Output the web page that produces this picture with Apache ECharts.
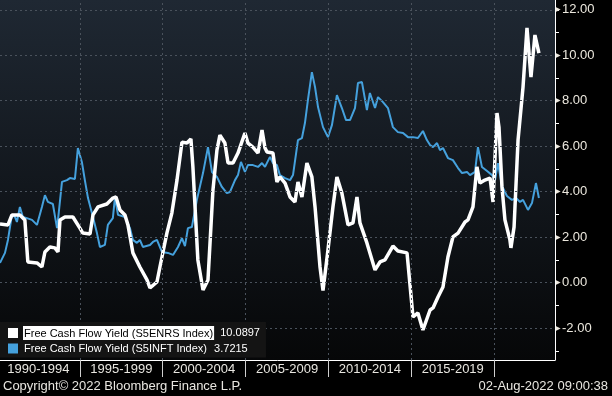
<!DOCTYPE html>
<html>
<head>
<meta charset="utf-8">
<script src="https://cdn.jsdelivr.net/npm/echarts@6/dist/echarts.min.js"></script>
<style>
  html, body { margin: 0; padding: 0; background: #000; }
  #chart { width: 612px; height: 396px; }
</style>
</head>
<body>
<div id="chart"></div>
<script>
// Free Cash Flow Yield: energy vs tech (Bloomberg style)

const enrsName = 'Free Cash Flow Yield (S5ENRS Index)';
const inftName = 'Free Cash Flow Yield (S5INFT Index)';
const enrsLast = '10.0897';
const inftLast = '3.7215';

const enrsYears = [1990.18, 1990.66, 1990.90, 1991.38, 1991.68, 1991.86, 1992.41, 1992.71, 1992.89, 1993.19,
    1993.49, 1993.68, 1993.80, 1994.10, 1994.58, 1995.00, 1995.18, 1995.61, 1995.79, 1996.09,
    1996.63, 1996.99, 1997.18, 1997.42, 1997.72, 1997.90, 1998.20, 1998.62, 1999.05, 1999.23,
    1999.65, 1999.83, 2000.25, 2000.55, 2000.86, 2001.16, 2001.46, 2001.70, 2001.82, 2002.12,
    2002.43, 2002.73, 2003.03, 2003.27, 2003.45, 2003.75, 2003.94, 2004.24, 2004.54, 2004.96,
    2005.14, 2005.44, 2005.75, 2005.99, 2006.17, 2006.29, 2006.65, 2006.89, 2007.07, 2007.38,
    2007.68, 2007.98, 2008.16, 2008.40, 2008.70, 2009.00, 2009.19, 2009.49, 2009.67, 2009.97,
    2010.27, 2010.51, 2010.81, 2011.18, 2011.48, 2011.72, 2011.90, 2012.32, 2012.81, 2013.11,
    2013.41, 2013.89, 2014.19, 2014.74, 2015.10, 2015.40, 2015.70, 2016.13, 2016.31, 2016.61,
    2016.91, 2017.21, 2017.51, 2017.82, 2018.24, 2018.42, 2018.72, 2018.96, 2019.14, 2019.44,
    2019.75, 2019.93, 2020.17, 2020.29, 2020.47, 2020.65, 2020.95, 2021.01, 2021.20, 2021.44,
    2021.74, 2021.98, 2022.22, 2022.46, 2022.70];
const enrsValues = [2.58, 2.54, 2.98, 2.98, 2.76, 0.91, 0.87, 0.69, 1.35, 1.57,
    1.53, 1.35, 2.76, 2.89, 2.89, 2.40, 2.18, 2.14, 2.98, 3.33,
    3.46, 3.72, 3.77, 3.20, 2.98, 2.54, 1.31, 0.69, 0.12, -0.23,
    0.03, 0.69, 2.18, 3.06, 4.51, 6.18, 6.14, 6.32, 5.09, 1.00,
    -0.32, 0.12, 4.07, 5.83, 6.49, 6.14, 5.26, 5.26, 5.70, 6.58,
    6.14, 5.96, 5.70, 6.71, 5.92, 5.75, 5.70, 4.43, 4.65, 4.38,
    3.77, 3.55, 4.43, 3.77, 5.26, 4.65, 3.33, 0.69, -0.35, 1.44,
    3.33, 4.65, 3.94, 2.54, 2.63, 3.77, 2.63, 1.75, 0.56, 0.91,
    1.00, 1.61, 1.39, 1.31, -1.51, -1.33, -2.08, -1.20, -1.11, -0.63,
    -0.19, 1.13, 2.01, 2.18, 2.67, 2.76, 3.33, 5.09, 4.38, 4.51,
    4.60, 3.55, 7.46, 6.84, 4.21, 2.76, 1.88, 1.53, 2.45, 6.27,
    8.60, 11.20, 9.04, 10.89, 10.0897];

const inftYears = [1990.18, 1990.48, 1990.66, 1990.90, 1991.08, 1991.20, 1991.38, 1991.56, 1991.80, 1992.11,
    1992.41, 1992.71, 1992.89, 1993.07, 1993.37, 1993.62, 1993.68, 1993.92, 1994.22, 1994.40,
    1994.70, 1994.88, 1995.12, 1995.30, 1995.49, 1995.79, 1996.03, 1996.21, 1996.51, 1996.69,
    1996.99, 1997.12, 1997.30, 1997.72, 1998.02, 1998.20, 1998.44, 1998.62, 1998.80, 1999.23,
    1999.41, 1999.65, 1999.95, 2000.31, 2000.62, 2000.92, 2001.16, 2001.34, 2001.52, 2001.76,
    2002.06, 2002.43, 2002.73, 2002.97, 2003.27, 2003.57, 2003.87, 2004.06, 2004.36, 2004.54,
    2004.72, 2004.96, 2005.14, 2005.44, 2005.75, 2005.99, 2006.17, 2006.47, 2006.65, 2006.89,
    2007.07, 2007.38, 2007.68, 2007.86, 2008.16, 2008.40, 2008.58, 2008.76, 2009.00, 2009.19,
    2009.37, 2009.67, 2009.97, 2010.21, 2010.51, 2010.81, 2011.06, 2011.30, 2011.60, 2011.78,
    2012.02, 2012.32, 2012.50, 2012.81, 2012.99, 2013.29, 2013.59, 2013.89, 2014.19, 2014.50,
    2014.80, 2015.10, 2015.40, 2015.70, 2015.94, 2016.13, 2016.31, 2016.55, 2016.73, 2016.91,
    2017.21, 2017.51, 2017.82, 2018.06, 2018.36, 2018.54, 2018.84, 2019.02, 2019.26, 2019.57,
    2019.87, 2020.05, 2020.23, 2020.47, 2020.77, 2021.07, 2021.32, 2021.56, 2021.74, 2022.04,
    2022.28, 2022.52, 2022.70];
const inftValues = [0.87, 1.31, 1.88, 2.98, 2.89, 2.67, 3.33, 2.89, 2.84, 2.76,
    2.54, 3.33, 3.85, 3.55, 3.46, 2.40, 2.76, 4.43, 4.51, 4.60,
    4.56, 5.92, 5.31, 4.51, 3.72, 2.89, 2.18, 1.57, 1.66, 2.54,
    2.84, 3.77, 2.98, 2.89, 2.40, 1.88, 1.75, 1.88, 1.57, 1.66,
    1.79, 1.88, 1.35, 1.31, 1.22, 1.57, 1.96, 1.61, 2.40, 2.45,
    3.64, 4.82, 5.96, 4.87, 4.65, 4.21, 3.94, 3.99, 4.51, 4.73,
    5.31, 4.87, 5.17, 5.17, 5.09, 5.26, 5.09, 5.53, 5.26, 5.17,
    4.73, 4.60, 4.51, 4.73, 6.27, 6.36, 7.02, 8.03, 9.26, 8.60,
    7.72, 6.84, 6.40, 6.93, 8.25, 7.68, 7.15, 7.15, 7.68, 8.78,
    8.82, 7.59, 8.34, 7.68, 8.16, 7.94, 7.68, 6.84, 6.62, 6.58,
    6.40, 6.40, 6.36, 6.67, 6.27, 6.05, 5.96, 6.14, 5.83, 5.92,
    5.48, 5.39, 5.04, 4.82, 4.87, 4.73, 4.87, 5.96, 5.09, 4.91,
    4.73, 4.51, 5.26, 4.25, 3.81, 3.64, 3.72, 3.55, 3.64, 3.20,
    3.50, 4.38, 3.7215];

// bottom band
const periodLabels = ['1990-1994', '1995-1999', '2000-2004', '2005-2009', '2010-2014', '2015-2019'];
const periodCenters = [1992.5, 1997.5, 2002.5, 2007.5, 2012.5, 2017.5];
const periodBreaks = [1995, 2000, 2005, 2010, 2015, 2020];

// y axis ticks
const yLabelValues = [-2, 0, 2, 4, 6, 8, 10, 12];
const yMinorValues = [-3, -2, -1, 0, 1, 2, 3, 4, 5, 6, 7, 8, 9, 10, 11, 12];

const xMin = 1990.18, xMax = 2023.67;
const yMin = -3.40, yMax = 12.43;

const WHITE = '#ffffff';
const BLUE = '#45a1dd';
const GRIDLINE = '#4a525c';
const FONT = 'Liberation Sans';

function zipPairs(xs, ys) {
    return xs.map((x, i) => [x, ys[i]]);
}

// dashed grid lines, drawn as mark lines on the axes' scales
const gridMarks = periodBreaks.map(v => ({ xAxis: v }))
    .concat(yLabelValues.map(v => ({ yAxis: v })));

const chart = echarts.init(document.getElementById('chart'));

const option = {
    backgroundColor: '#000',
    animation: false,
    textStyle: { fontFamily: FONT },
    grid: {
        left: 0,
        top: 0,
        width: 555,
        height: 360,
        show: true,
        borderWidth: 0,
        backgroundColor: new echarts.graphic.LinearGradient(0, 0, 0, 1, [
            { offset: 0, color: '#1f2833' },
            { offset: 1, color: '#060708' }
        ])
    },
    legend: {
        z: 10,
        left: 0,
        top: 322,
        orient: 'vertical',
        icon: 'rect',
        itemWidth: 10,
        itemHeight: 10,
        itemGap: 3,
        padding: [4, 6, 3, 8],
        backgroundColor: '#141414',
        textStyle: { color: '#fff', fontSize: 11, fontFamily: FONT },
        formatter: function (name) {
            const v = name === enrsName ? enrsLast : inftLast;
            return '{n|' + name + '}  {v|' + v + '}';
        },
        data: [
            {
                name: enrsName,
                textStyle: {
                    rich: {
                        n: { backgroundColor: '#fff', color: '#000', fontSize: 11, padding: [2, 1, 1, 1], fontFamily: FONT },
                        v: { color: '#fff', fontSize: 11, fontFamily: FONT }
                    }
                }
            },
            {
                name: inftName,
                textStyle: {
                    rich: {
                        n: { color: '#fff', fontSize: 11, padding: [2, 1, 1, 1], fontFamily: FONT },
                        v: { color: '#fff', fontSize: 11, fontFamily: FONT }
                    }
                }
            }
        ]
    },
    xAxis: {
        type: 'value',
        min: xMin,
        max: xMax,
        axisLine: { show: true, onZero: false, lineStyle: { color: '#fff', width: 1 } },
        axisTick: {
            show: true,
            customValues: periodBreaks,
            length: 17,
            lineStyle: { color: '#cfcfcf', width: 1 }
        },
        splitLine: { show: false },
        axisLabel: {
            customValues: periodCenters,
            margin: 3,
            color: '#e8e6e0',
            fontSize: 13,
            fontFamily: FONT,
            formatter: function (v) {
                const i = periodCenters.indexOf(v);
                return i >= 0 ? periodLabels[i] : '';
            }
        }
    },
    yAxis: [
        {
            type: 'value',
            position: 'right',
            min: yMin,
            max: yMax,
            axisLine: { show: true, lineStyle: { color: '#fff', width: 1 } },
            axisTick: {
                show: true,
                inside: false,
                customValues: yMinorValues,
                length: 4,
                lineStyle: { color: '#fff' }
            },
            axisLabel: { show: false },
            splitLine: { show: false }
        },
        {
            type: 'value',
            position: 'right',
            min: yMin,
            max: yMax,
            axisLine: { show: false },
            axisTick: { show: false, customValues: yLabelValues },
            splitLine: { show: false },
            axisLabel: {
                customValues: yLabelValues,
                margin: 1,
                color: '#ece8de',
                fontSize: 13,
                fontFamily: FONT,
                formatter: function (v) {
                    return '{t|\u25B6}' + v.toFixed(2);
                },
                rich: {
                    t: { fontSize: 6, color: '#ece8de', padding: [0, 1, 0, 0] }
                }
            }
        }
    ],
    series: [
        {
            name: 'gridlines',
            type: 'line',
            z: 1,
            silent: true,
            showSymbol: false,
            lineStyle: { opacity: 0 },
            data: [[xMin, 0]],
            markLine: {
                silent: true,
                symbol: ['none', 'none'],
                label: { show: false },
                lineStyle: { color: GRIDLINE, type: [2, 3], width: 1 },
                data: gridMarks
            }
        },
        {
            name: enrsName,
            type: 'line',
            z: 3,
            showSymbol: false,
            lineStyle: { color: WHITE, width: 3.5 },
            itemStyle: { color: WHITE },
            data: zipPairs(enrsYears, enrsValues),
            markLine: {
                silent: true,
                symbol: ['none', 'none'],
                lineStyle: { opacity: 0 },
                label: {
                    position: 'end',
                    distance: 2,
                    formatter: enrsLast,
                    backgroundColor: '#fff',
                    color: '#000',
                    fontSize: 13,
                    fontFamily: FONT,
                    padding: [3, 4, 2, 4]
                },
                data: [{ yAxis: Number(enrsLast) }]
            }
        },
        {
            name: inftName,
            type: 'line',
            z: 2,
            showSymbol: false,
            lineStyle: { color: BLUE, width: 2 },
            itemStyle: { color: BLUE },
            data: zipPairs(inftYears, inftValues),
            markLine: {
                silent: true,
                symbol: ['none', 'none'],
                lineStyle: { opacity: 0 },
                label: {
                    position: 'end',
                    distance: 2,
                    formatter: inftLast,
                    backgroundColor: BLUE,
                    color: '#0c1b28',
                    fontSize: 13,
                    fontFamily: FONT,
                    padding: [3, 6, 2, 6]
                },
                data: [{ yAxis: Number(inftLast) }]
            }
        }
    ],
    graphic: [
        {
            type: 'text',
            left: 3,
            top: 380,
            style: { text: 'Copyright\u00A9 2022 Bloomberg Finance L.P.', fill: '#e8e6e0', fontSize: 13, fontFamily: FONT }
        },
        {
            type: 'text',
            right: 4,
            top: 380,
            style: { text: '02-Aug-2022 09:00:38', fill: '#e8e6e0', fontSize: 13, fontFamily: FONT }
        }
    ]
};

chart.setOption(option);
</script>
</body>
</html>
